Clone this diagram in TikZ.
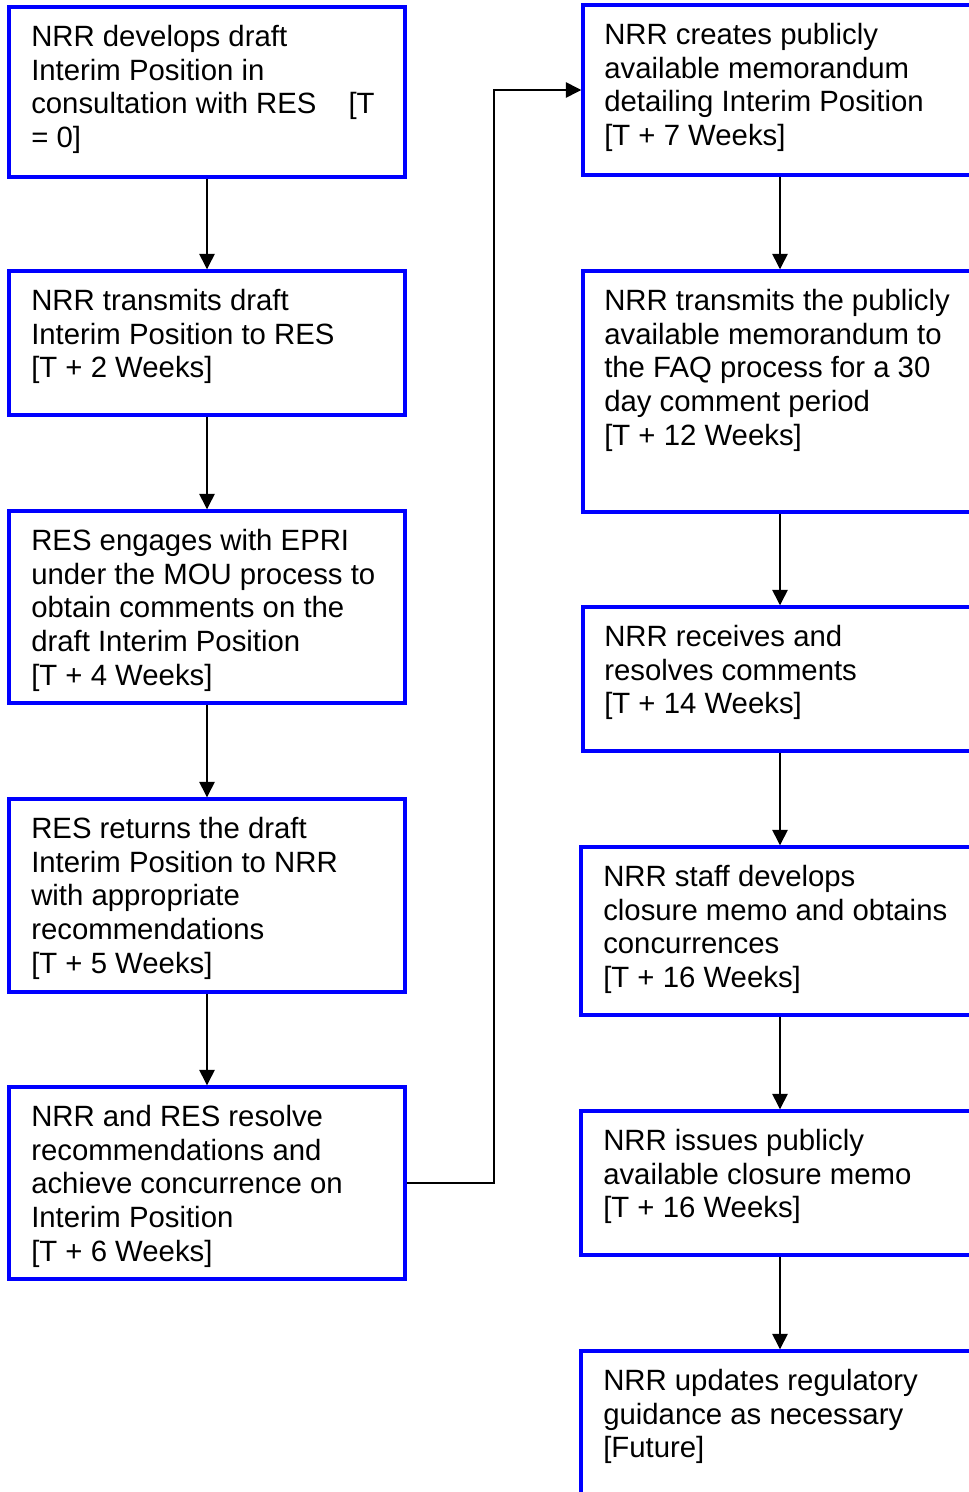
\documentclass[tikz,border=0pt]{standalone}
\usepackage{fontspec}
\setmainfont{Liberation Sans}
\usetikzlibrary{fit,arrows.meta}
\begin{document}
\begin{tikzpicture}[x=0.75pt,y=-0.75pt,
  box/.style={draw=boxblue, line width=2.6pt, rectangle, inner sep=0pt},
  txt/.style={anchor=north west, inner sep=0pt, align=left, font=\fontsize{22pt}{25.3pt}\selectfont},
  arr/.style={draw=black, line width=1.1pt, -{Triangle[width=11.5pt,length=11.5pt]}},
  lnk/.style={draw=black, line width=1.1pt}]
\definecolor{boxblue}{RGB}{0,0,255}
\useasboundingbox (0,0) rectangle (969,1492);
\clip (0,0) rectangle (969,1492);
\newcommand{\fr}{\rule{0pt}{18pt}}
% left column
\node[box, fit={(9,7) (405,177)}] (b1) {};
\node[box, fit={(9,271) (405,415)}] (b2) {};
\node[box, fit={(9,511) (405,703)}] (b3) {};
\node[box, fit={(9,799) (405,992)}] (b4) {};
\node[box, fit={(9,1087) (405,1279)}] (b5) {};
% right column
\node[box, fit={(583,5) (1010,175)}] (r1) {};
\node[box, fit={(583,271) (1010,512)}] (r2) {};
\node[box, fit={(583,607) (1010,751)}] (r3) {};
\node[box, fit={(581,847) (1010,1015)}] (r4) {};
\node[box, fit={(581,1111) (1010,1255)}] (r5) {};
\node[box, fit={(581,1351) (1010,1560)}] (r6) {};
% texts
\node[txt] (t1) at (31,22) {\fr NRR develops draft\\Interim Position in\\consultation with RES\hspace{24pt}[T\\= 0]};
\node[txt] (t2) at (31,286) {\fr NRR transmits draft\\Interim Position to RES\\{[T + 2 Weeks]}};
\node[txt] (t3) at (31,526) {\fr RES engages with EPRI\\under the MOU process to\\obtain comments on the\\draft Interim Position\\{[T + 4 Weeks]}};
\node[txt] (t4) at (31,814) {\fr RES returns the draft\\Interim Position to NRR\\with appropriate\\recommendations\\{[T + 5 Weeks]}};
\node[txt] (t5) at (31,1102) {\fr NRR and RES resolve\\recommendations and\\achieve concurrence on\\Interim Position\\{[T + 6 Weeks]}};
\node[txt] (u1) at (604,20) {\fr NRR creates publicly\\available memorandum\\detailing Interim Position\\{[T + 7 Weeks]}};
\node[txt] (u2) at (604,286) {\fr NRR transmits the publicly\\available memorandum to\\the FAQ process for a 30\\day comment period\\{[T + 12 Weeks]}};
\node[txt] (u3) at (604,622) {\fr NRR receives and\\resolves comments\\{[T + 14 Weeks]}};
\node[txt] (u4) at (603,862) {\fr NRR staff develops\\closure memo and obtains\\concurrences\\{[T + 16 Weeks]}};
\node[txt] (u5) at (603,1126) {\fr NRR issues publicly\\available closure memo\\{[T + 16 Weeks]}};
\node[txt] (u6) at (603,1366) {\fr NRR updates regulatory\\guidance as necessary\\{[Future]}};
% connectors
\coordinate (rx) at (780,0);
\draw[arr] (b1.south) -- (b2.north);
\draw[arr] (b2.south) -- (b3.north);
\draw[arr] (b3.south) -- (b4.north);
\draw[arr] (b4.south) -- (b5.north);
\draw[arr] (r1.south -| rx) -- (r2.north -| rx);
\draw[arr] (r2.south -| rx) -- (r3.north -| rx);
\draw[arr] (r3.south -| rx) -- (r4.north -| rx);
\draw[arr] (r4.south -| rx) -- (r5.north -| rx);
\draw[arr] (r5.south -| rx) -- (r6.north -| rx);
\coordinate (ex) at (494,90);
\draw[arr] (b5.east) -| (ex) -- (ex -| r1.west);
\end{tikzpicture}
\end{document}
